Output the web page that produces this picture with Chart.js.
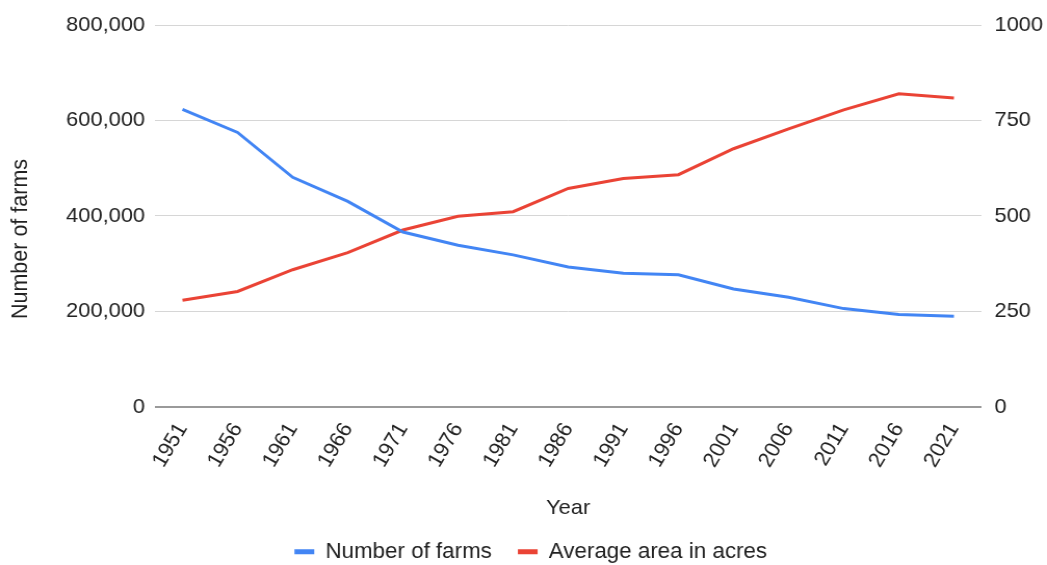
<!DOCTYPE html>
<html>
<head>
<meta charset="utf-8">
<script src="https://cdn.jsdelivr.net/npm/chart.js@4"></script>
<style>
  html, body { margin: 0; padding: 0; background: #fff; overflow: hidden; }
  #wrap { position: absolute; left: 0; top: 0; width: 1007px; height: 565px; transform: scaleX(1.0397); transform-origin: 0 0; }
</style>
</head>
<body>
<div id="wrap"><canvas id="c" width="1007" height="565"></canvas></div>
<script>
const years = ['1951','1956','1961','1966','1971','1976','1981','1986','1991','1996','2001','2006','2011','2016','2021'];
const numberOfFarms = [623091, 575015, 480903, 430522, 366128, 338552, 318361, 293089, 280043, 276548, 246923, 229373, 205730, 193492, 189874];
const averageArea = [279, 302, 359, 404, 463, 499, 511, 572, 598, 608, 676, 728, 778, 820, 809];
const leftTicks = [0, 200000, 400000, 600000, 800000];
const rightTicks = [0, 250, 500, 750, 1000];
const leftAxisTitle = 'Number of farms';

const FONT = "'Liberation Sans', Arial, Helvetica, sans-serif";
const BLUE = '#4285F4';
const RED = '#EA4335';
const TEXT = '#222';

const yTitlePlugin = {
  id: 'yTitle',
  afterDraw(chart) {
    const ctx = chart.ctx;
    ctx.save();
    ctx.translate(20, 239);
    ctx.rotate(-Math.PI / 2);
    ctx.font = "21.5px " + FONT;
    ctx.fillStyle = TEXT;
    ctx.textAlign = 'center';
    ctx.textBaseline = 'middle';
    ctx.fillText(leftAxisTitle, 0, 0);
    ctx.restore();
  }
};

new Chart(document.getElementById('c'), {
  type: 'line',
  data: {
    labels: years,
    datasets: [
      { label: 'Number of farms', data: numberOfFarms, yAxisID: 'y', borderColor: BLUE, backgroundColor: BLUE, borderWidth: 3, pointRadius: 0, tension: 0 },
      { label: 'Average area in acres', data: averageArea, yAxisID: 'y1', borderColor: RED, backgroundColor: RED, borderWidth: 3, pointRadius: 0, tension: 0 }
    ]
  },
  plugins: [yTitlePlugin],
  options: {
    responsive: false,
    animation: false,
    devicePixelRatio: 1,
    layout: { padding: { left: 14, right: 0, top: 12, bottom: -7.5 } },
    plugins: {
      legend: {
        position: 'bottom',
        labels: {
          font: { family: FONT, size: 21.5 },
          color: TEXT,
          boxWidth: 19,
          boxHeight: 5,
          padding: 25,
          generateLabels: (chart) => Chart.defaults.plugins.legend.labels.generateLabels(chart).map(l => Object.assign(l, { lineWidth: 0 }))
        }
      },
      tooltip: { enabled: false }
    },
    scales: {
      x: {
        offset: true,
        grid: { display: false, drawTicks: false },
        border: { display: false },
        ticks: { font: { family: FONT, size: 21 }, color: TEXT, minRotation: 60, maxRotation: 60, padding: 12, autoSkip: false },
        title: { display: true, text: 'Year', font: { family: FONT, size: 21 }, color: TEXT, padding: { top: 12, bottom: -5 } }
      },
      y: {
        position: 'left',
        min: 0, max: 800000,
        afterBuildTicks: (axis) => { axis.ticks = leftTicks.map(v => ({ value: v })); },
        afterFit: (axis) => { axis.width = 135; },
        grid: { color: (ctx) => ctx.tick && ctx.tick.value === 0 ? '#9a9a9a' : '#d6d6d6', lineWidth: (ctx) => ctx.tick && ctx.tick.value === 0 ? 2 : 1, drawTicks: false },
        border: { display: false },
        ticks: { font: { family: FONT, size: 21 }, color: TEXT, padding: 9.5, callback: (v) => v.toLocaleString('en-US') }
      },
      y1: {
        position: 'right',
        min: 0, max: 1000,
        afterBuildTicks: (axis) => { axis.ticks = rightTicks.map(v => ({ value: v })); },
        afterFit: (axis) => { axis.width = 63; },
        grid: { display: false, drawTicks: false },
        border: { display: false },
        ticks: { font: { family: FONT, size: 21 }, color: TEXT, padding: 12.5, callback: (v) => String(v) }
      }
    }
  }
});
</script>
</body>
</html>
